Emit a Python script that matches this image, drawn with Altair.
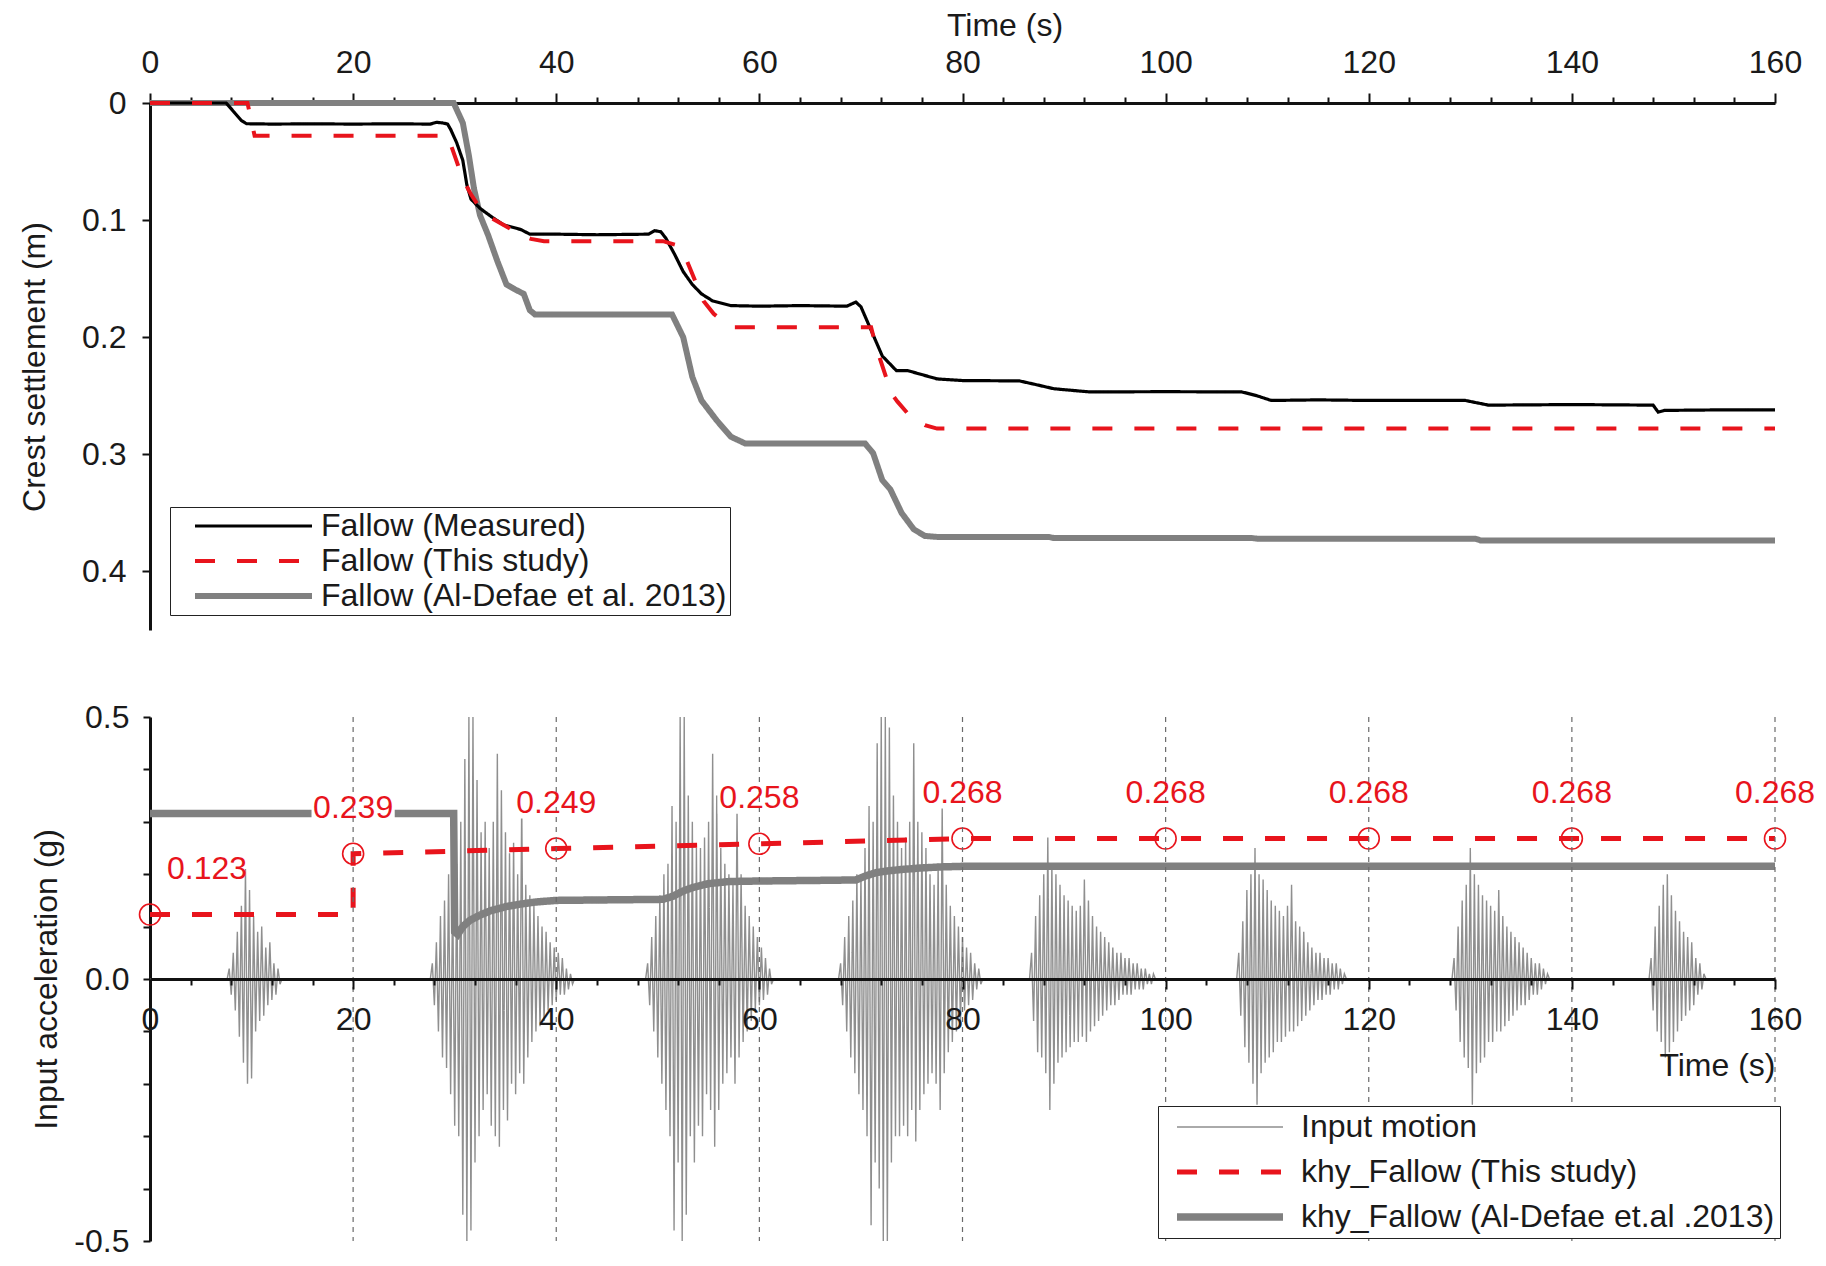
import altair as alt
import pandas as pd

# ---------------- data ----------------
# Top panel: crest settlement (m) versus time (s)
MEAS_T = [0, 7.5, 8.3, 9.0, 9.5, 12, 16, 20, 24, 27.6, 28.2, 28.8, 29.3, 29.6, 30.2, 30.8, 31.2, 31.6,
          32.5, 33.6, 34.8, 36.5, 37.4, 40, 44, 49.1, 49.7, 50.3, 50.8, 51.7, 52.5, 53.4, 54.3, 55.4,
          57.2, 60, 64, 68.6, 69.5, 70.0, 70.9, 72.1, 73.5, 74.6, 77.5, 80, 85.6, 87, 89, 92.5, 100,
          107.5, 109, 110.4, 115, 120, 129.5, 131.8, 140, 148, 148.5, 149.1, 155, 160]
MEAS_S = [0, 0, 0.008, 0.015, 0.0177, 0.018, 0.0178, 0.018, 0.0178, 0.018, 0.0165, 0.017, 0.018, 0.0225,
          0.034, 0.049, 0.07, 0.082, 0.09, 0.097, 0.104, 0.108, 0.112, 0.112, 0.1125, 0.112, 0.109, 0.11,
          0.1155, 0.13, 0.144, 0.155, 0.163, 0.169, 0.173, 0.1735, 0.173, 0.1735, 0.17, 0.174, 0.192,
          0.216, 0.2286, 0.2285, 0.2356, 0.237, 0.2373, 0.24, 0.244, 0.2467, 0.2465, 0.2467, 0.25, 0.254,
          0.2535, 0.254, 0.254, 0.258, 0.2575, 0.258, 0.264, 0.2625, 0.262, 0.262]

THIS_T = [0, 9.6, 10.3, 20, 29.3, 29.8, 30.4, 31.0, 31.6, 32.2, 33.0, 33.7, 35.0, 36.5, 37.5, 38.8, 45,
          50.5, 51.7, 52.5, 53.4, 54.5, 55.5, 56.5, 57.5, 64, 71.0, 71.5, 72.7, 73.0, 73.6, 74.6, 76.3,
          77.5, 160]
THIS_S = [0, 0, 0.028, 0.028, 0.028, 0.04, 0.055, 0.068, 0.078, 0.086, 0.092, 0.0986, 0.105, 0.1127,
          0.116, 0.118, 0.118, 0.118, 0.121, 0.127, 0.146, 0.169, 0.18, 0.187, 0.1915, 0.1915, 0.1915,
          0.2085, 0.24, 0.248, 0.255, 0.265, 0.275, 0.278, 0.278]

ALDF_T = [0, 29.9, 30.8, 31.4, 31.9, 32.5, 33.3, 34.2, 35.1, 35.9, 36.8, 37.4, 37.9, 45, 51.4, 52.5,
          53.4, 54.3, 55.8, 57.2, 58.6, 65, 70.4, 71.2, 72.1, 72.9, 74.0, 75.2, 76.3, 77.5, 88.5, 89,
          108.5, 109, 130.5, 131, 160]
ALDF_S = [0, 0, 0.017, 0.045, 0.073, 0.096, 0.113, 0.135, 0.155, 0.159, 0.163, 0.177, 0.1805, 0.1805,
          0.1805, 0.2, 0.234, 0.254, 0.271, 0.285, 0.2907, 0.2907, 0.2907, 0.299, 0.322, 0.33, 0.35,
          0.364, 0.3697, 0.3705, 0.3705, 0.3715, 0.3715, 0.372, 0.372, 0.3735, 0.3735]

TOP_NAMES = ["Fallow (Measured)", "Fallow (This study)", "Fallow (Al-Defae et al. 2013)"]

# Bottom panel: input acceleration (g) versus time (s)
KHY_T = [0, 20, 20, 40, 60, 80, 100, 120, 140, 160]
KHY_V = [0.123, 0.123, 0.239, 0.249, 0.258, 0.268, 0.268, 0.268, 0.268, 0.268]
PT_T = [0, 20, 40, 60, 80, 100, 120, 140, 160]
PT_V = [0.123, 0.239, 0.249, 0.258, 0.268, 0.268, 0.268, 0.268, 0.268]
PT_LABEL = ["0.123", "0.239", "0.249", "0.258", "0.268", "0.268", "0.268", "0.268", "0.268"]

AL_T = [0, 29.9, 30.0, 30.3, 30.8, 31.5, 32.5, 33.5, 35, 36.5, 38, 40, 45, 50.5, 51.5, 52.5, 53.5, 55,
        57, 60, 65, 69.5, 70.5, 71.5, 72.5, 74, 76, 78, 80, 160]
AL_V = [0.316, 0.316, 0.09, 0.085, 0.1, 0.112, 0.122, 0.13, 0.138, 0.143, 0.147, 0.15, 0.151, 0.152,
        0.158, 0.168, 0.175, 0.182, 0.186, 0.187, 0.188, 0.189, 0.197, 0.203, 0.206, 0.209, 0.212, 0.214,
        0.215, 0.215]

GRID_T = [20, 40, 60, 80, 100, 120, 140, 160]

BOT_NAMES = ["Input motion", "khy_Fallow (This study)", "khy_Fallow (Al-Defae et.al .2013)"]

# Input motion: eight shaking bursts, sampled every 0.2 s from their start time
BURST_START = [7.6, 27.6, 48.8, 67.8, 86.6, 107.0, 128.2, 147.6]
BURST_STEP = 0.2
BURST_1 = [0, 0.02, -0.03, 0.05, -0.06, 0.09, -0.11, 0.14, -0.16, 0.21, -0.2, 0.17, -0.19, 0.12, -0.1,
           0.09, -0.08, 0.1, -0.07, 0.06, -0.05, 0.07, -0.04, 0.03, -0.03, 0.02, -0.01, 0]
BURST_2 = [0, 0.03, -0.05, 0.07, -0.1, 0.12, -0.15, 0.15, -0.17, 0.2, -0.22, 0.18, -0.28, 0.22, -0.3,
           0.3, -0.45, 0.42, -0.5, 0.5, -0.48, 0.5, -0.35, 0.38, -0.3, 0.28, -0.25, 0.3, -0.22, 0.25,
           -0.28, 0.3, -0.3, 0.43, -0.32, 0.36, -0.25, 0.28, -0.27, 0.24, -0.2, 0.26, -0.22, 0.2, -0.18,
           0.34, -0.2, 0.18, -0.15, 0.16, -0.12, 0.14, -0.1, 0.12, -0.09, 0.1, -0.08, 0.09, -0.06, 0.07,
           -0.05, 0.06, -0.04, 0.05, -0.03, 0.04, -0.03, 0.02, -0.02, 0.01, -0.01, 0]
BURST_3 = [0, 0.03, -0.05, 0.08, -0.1, 0.12, -0.15, 0.16, -0.2, 0.2, -0.25, 0.22, -0.3, 0.33, -0.48,
           0.3, -0.35, 0.5, -0.5, 0.5, -0.45, 0.35, -0.3, 0.3, -0.35, 0.25, -0.28, 0.25, -0.3, 0.27,
           -0.22, 0.3, -0.25, 0.43, -0.32, 0.35, -0.25, 0.25, -0.2, 0.22, -0.18, 0.2, -0.15, 0.18, -0.2,
           0.32, -0.15, 0.2, -0.12, 0.14, -0.1, 0.12, -0.08, 0.1, -0.06, 0.08, -0.05, 0.06, -0.04, 0.04,
           -0.03, 0.02, -0.01, 0]
BURST_4 = [0, 0.03, -0.05, 0.08, -0.1, 0.12, -0.15, 0.15, -0.18, 0.2, -0.22, 0.2, -0.25, 0.25, -0.3,
           0.33, -0.47, 0.3, -0.35, 0.45, -0.4, 0.5, -0.5, 0.5, -0.5, 0.48, -0.35, 0.35, -0.3, 0.3, -0.3,
           0.25, -0.28, 0.27, -0.3, 0.3, -0.25, 0.45, -0.31, 0.3, -0.25, 0.28, -0.22, 0.25, -0.2, 0.2,
           -0.18, 0.18, -0.2, 0.22, -0.25, 0.33, -0.18, 0.18, -0.14, 0.14, -0.12, 0.12, -0.1, 0.1, -0.08,
           0.08, -0.06, 0.06, -0.05, 0.05, -0.04, 0.03, -0.02, 0.02, -0.01, 0]
BURST_5 = [0, 0.05, -0.08, 0.12, -0.14, 0.16, -0.15, 0.2, -0.18, 0.27, -0.25, 0.22, -0.2, 0.2, -0.16,
           0.18, -0.15, 0.16, -0.14, 0.15, -0.13, 0.14, -0.12, 0.13, -0.12, 0.14, -0.11, 0.19, -0.12,
           0.15, -0.1, 0.12, -0.09, 0.1, -0.08, 0.09, -0.07, 0.08, -0.06, 0.07, -0.05, 0.06, -0.05, 0.05,
           -0.04, 0.05, -0.03, 0.04, -0.03, 0.04, -0.03, 0.03, -0.02, 0.03, -0.02, 0.02, -0.02, 0.02,
           -0.01, 0.01, -0.01, 0.01, 0]
BURST_6 = [0, 0.05, -0.07, 0.11, -0.13, 0.17, -0.16, 0.2, -0.2, 0.25, -0.24, 0.2, -0.18, 0.19, -0.16,
           0.17, -0.15, 0.15, -0.14, 0.14, -0.12, 0.13, -0.12, 0.12, -0.11, 0.14, -0.1, 0.18, -0.1, 0.11,
           -0.09, 0.1, -0.08, 0.09, -0.07, 0.07, -0.06, 0.06, -0.05, 0.05, -0.04, 0.05, -0.04, 0.04,
           -0.03, 0.04, -0.03, 0.03, -0.02, 0.03, -0.02, 0.02, -0.01, 0.01, 0]
BURST_7 = [0, 0.04, -0.06, 0.1, -0.12, 0.15, -0.15, 0.18, -0.17, 0.25, -0.24, 0.2, -0.18, 0.18, -0.16,
           0.16, -0.15, 0.15, -0.12, 0.14, -0.12, 0.13, -0.1, 0.17, -0.1, 0.12, -0.09, 0.1, -0.08, 0.09,
           -0.07, 0.08, -0.06, 0.07, -0.05, 0.06, -0.05, 0.05, -0.04, 0.04, -0.03, 0.03, -0.03, 0.03,
           -0.02, 0.02, -0.01, 0.01, 0]
BURST_8 = [0, 0.04, -0.06, 0.1, -0.1, 0.14, -0.12, 0.18, -0.15, 0.2, -0.14, 0.16, -0.12, 0.13, -0.1,
           0.11, -0.08, 0.09, -0.07, 0.08, -0.06, 0.07, -0.05, 0.04, -0.03, 0.03, -0.02, 0.01, 0]
BURSTS = [BURST_1, BURST_2, BURST_3, BURST_4, BURST_5, BURST_6, BURST_7, BURST_8]

# ---------------- styling ----------------
FONT = "Liberation Sans"
FS = 32
W = 1625
H1 = 527
H2 = 524
RED = "#e8141c"
TXT = "#1a1a1a"

AX = dict(domainColor="#111111", domainWidth=3, tickColor="#111111", tickWidth=2,
          labelFontSize=FS, titleFontSize=FS, labelColor=TXT, titleColor=TXT,
          titleFontWeight="normal", labelFont=FONT, titleFont=FONT, grid=False)
X_TICKS = list(range(0, 161, 4))
TICK_COND = {"condition": {"test": "datum.value % 20 === 0", "value": 10}, "value": 6}


def series_frame(ts, vs, name):
    return pd.DataFrame({"t": ts, "v": vs, "series": name, "i": range(len(ts))})


def series_layer(df, x, y, names, colors, dashes, widths, legend):
    return alt.Chart(df).mark_line(strokeCap="butt").encode(
        x=x, y=y, order=alt.Order("i:Q"),
        color=alt.Color("series:N", scale=alt.Scale(domain=names, range=colors), legend=legend),
        strokeDash=alt.StrokeDash("series:N", scale=alt.Scale(domain=names, range=dashes), legend=legend),
        strokeWidth=alt.StrokeWidth("series:N",
                                    scale=alt.Scale(type="ordinal", domain=names, range=widths),
                                    legend=legend),
    )


# ---------------- top panel ----------------
x_top = alt.X("t:Q", scale=alt.Scale(domain=[0, 160], nice=False, zero=False),
              axis=alt.Axis(orient="top", values=X_TICKS,
                            labelExpr="datum.value % 20 === 0 ? datum.label : ''",
                            labelOverlap=False, labelFlush=False, tickSize=TICK_COND,
                            labelPadding=14, title="Time (s)", titlePadding=4,
                            titleX=W / 2 + 42, **AX))
y_top = alt.Y("v:Q", scale=alt.Scale(domain=[0, 0.45], reverse=True, nice=False, zero=False),
              axis=alt.Axis(values=[0, 0.1, 0.2, 0.3, 0.4],
                            labelExpr="datum.value === 0 ? '0' : format(datum.value, '.1f')",
                            labelFlush=False, tickSize=8, labelPadding=16,
                            title="Crest settlement (m)", titlePadding=30, **AX))

leg_top = alt.Legend(title=None, orient="none", legendX=20, legendY=404, symbolType="stroke",
                     symbolSize=117 * 117, symbolOffset=19, labelOffset=6, labelFontSize=FS,
                     labelFont=FONT, labelColor=TXT, labelLimit=1000, clipHeight=32, rowPadding=3,
                     padding=3, strokeColor="#222222", fillColor="white")

TOP_COLORS = ["#000000", RED, "#808080"]
TOP_DASH = [[1, 0], [20, 22], [1, 0]]
TOP_WIDTH = [3.2, 4, 6]

top_layers = [
    series_layer(series_frame(ALDF_T, ALDF_S, TOP_NAMES[2]), x_top, y_top, TOP_NAMES, TOP_COLORS,
                 TOP_DASH, TOP_WIDTH, leg_top),
    series_layer(series_frame(MEAS_T, MEAS_S, TOP_NAMES[0]), x_top, y_top, TOP_NAMES, TOP_COLORS,
                 TOP_DASH, TOP_WIDTH, leg_top),
    series_layer(series_frame(THIS_T, THIS_S, TOP_NAMES[1]), x_top, y_top, TOP_NAMES, TOP_COLORS,
                 TOP_DASH, TOP_WIDTH, leg_top),
]
top = alt.layer(*top_layers).properties(width=W, height=H1)

# ---------------- bottom panel ----------------
x_bot = alt.X("t:Q", scale=alt.Scale(domain=[0, 160], nice=False, zero=False),
              axis=alt.Axis(orient="bottom", offset=-H2 / 2, values=X_TICKS,
                            labelExpr="datum.value % 20 === 0 ? datum.label : ''",
                            labelOverlap=False, labelFlush=False, tickSize=TICK_COND,
                            labelPadding=15, title="Time (s)", titleAnchor="end",
                            titlePadding=15, zindex=1, **AX))
y_bot = alt.Y("v:Q", scale=alt.Scale(domain=[-0.5, 0.5], nice=False, zero=False),
              axis=alt.Axis(values=[-0.5, -0.4, -0.3, -0.2, -0.1, 0, 0.1, 0.2, 0.3, 0.4, 0.5],
                            labelExpr="(abs(datum.value) > 0.45 || abs(datum.value) < 0.05) ? "
                                      "((datum.value < -0.01 ? '-' : '') + format(abs(datum.value), '.1f')) : ''",
                            labelFlush=False, labelOverlap=False, tickSize=7, labelPadding=14,
                            title="Input acceleration (g)", titlePadding=10, **AX))

leg_bot = alt.Legend(title=None, orient="none", legendX=1008, legendY=389, symbolType="stroke",
                     symbolSize=106 * 106, symbolOffset=10, labelOffset=14, labelFontSize=FS,
                     labelFont=FONT, labelColor=TXT, labelLimit=1000, clipHeight=32, rowPadding=13,
                     padding=5, strokeColor="#222222", fillColor="white")

BOT_COLORS = ["#8f8f8f", RED, "#808080"]
BOT_DASH = [[1, 0], [20, 22], [1, 0]]
BOT_WIDTH = [1.4, 5, 7.5]

motion_t, motion_v = [0.0], [0.0]
for start, vals in zip(BURST_START, BURSTS):
    for k, v in enumerate(vals):
        motion_t.append(round(start + k * BURST_STEP, 2))
        motion_v.append(v)
motion_t.append(160.0)
motion_v.append(0.0)

pts = pd.DataFrame({"t": PT_T, "v": PT_V, "lab": PT_LABEL})
pts_first = pts.iloc[:1]
pts_rest = pts.iloc[1:]
pts_boxed = pts[(pts.t > 0) & (pts.t <= 80)]   # labels that sit over plotted data
BOX = "M-1.3,-0.5L1.3,-0.5L1.3,0.5L-1.3,0.5Z"
DY = -46

bot_layers = [
    series_layer(series_frame(motion_t, motion_v, BOT_NAMES[0]), x_bot, y_bot, BOT_NAMES, BOT_COLORS,
                 BOT_DASH, BOT_WIDTH, leg_bot),
    series_layer(series_frame(AL_T, AL_V, BOT_NAMES[2]), x_bot, y_bot, BOT_NAMES, BOT_COLORS,
                 BOT_DASH, BOT_WIDTH, leg_bot),
    series_layer(series_frame(KHY_T, KHY_V, BOT_NAMES[1]), x_bot, y_bot, BOT_NAMES, BOT_COLORS,
                 BOT_DASH, BOT_WIDTH, leg_bot),
    alt.Chart(pts).mark_point(shape="circle", size=441, filled=False, color=RED, strokeWidth=1.6,
                              opacity=1).encode(x=x_bot, y=y_bot),
    alt.Chart(pts_boxed).mark_point(shape=BOX, size=4096, filled=True, color="white", opacity=1,
                                    strokeWidth=0, yOffset=DY).encode(x=x_bot, y=y_bot),
    alt.Chart(pd.DataFrame({"t": GRID_T})).mark_rule(color="#6a6a6a", strokeWidth=1.2,
                                                       strokeDash=[5, 5]).encode(x=x_bot),
    alt.Chart(pts_rest).mark_text(font=FONT, fontSize=FS, color=RED, dy=DY, baseline="middle",
                                  align="center").encode(x=x_bot, y=y_bot, text="lab:N"),
    alt.Chart(pts_first).mark_text(font=FONT, fontSize=FS, color=RED, dy=DY, dx=57, baseline="middle",
                                   align="center").encode(x=x_bot, y=y_bot, text="lab:N"),
]
bottom = alt.layer(*bot_layers).properties(width=W, height=H2)

chart = alt.vconcat(top, bottom, spacing=69).resolve_scale(
    x="independent", y="independent", color="independent", strokeDash="independent",
    strokeWidth="independent"
).resolve_legend(
    color="independent", strokeDash="independent", strokeWidth="independent"
).properties(
    padding={"left": 10, "top": 0, "right": 0, "bottom": 0}
).configure(font=FONT).configure_view(stroke="transparent")

chart.save("out.html", embed_options={"renderer": "svg", "actions": False})
